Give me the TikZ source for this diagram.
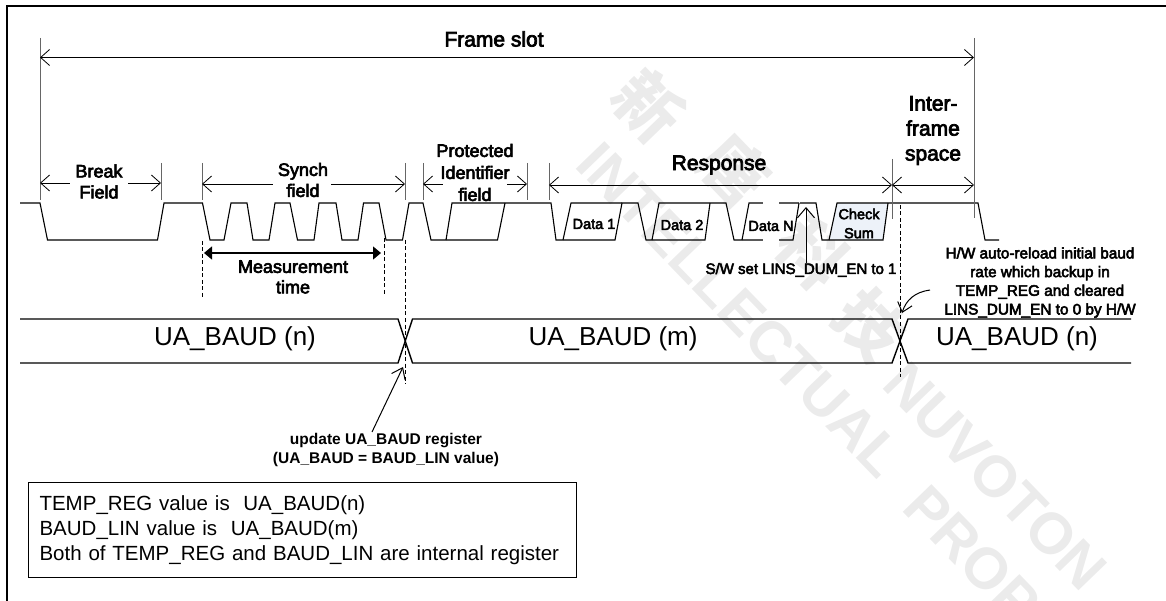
\documentclass[tikz,border=0pt]{standalone}
\usepackage{fontspec}
\setmainfont{Liberation Sans}
\newfontfamily\semi[RawFeature={embolden=3.5}]{Liberation Sans}
\newfontfamily\cjk{Noto Sans CJK TC}
\usetikzlibrary{arrows.meta}
\definecolor{sumfill}{HTML}{EDF2F9}
\newcommand{\fs}[2]{\fontsize{#1pt}{#2pt}\selectfont}
\tikzset{
  barb/.style={{Straight Barb[length=9pt,width=16pt]}-{Straight Barb[length=9pt,width=16pt]}},
  barbL/.style={{Straight Barb[length=9pt,width=16pt]}-},
  barbR/.style={-{Straight Barb[length=9pt,width=16pt]}},
  tick/.style={draw=black!60,line width=1pt},
  dim/.style={line width=0.8pt},
  wave/.style={line width=1.1pt,line join=miter},
  busline/.style={line width=1.4pt},
  guide/.style={line width=0.7pt,dash pattern=on 4pt off 2.5pt},
  lab/.style={font=\semi\fs{18}{21},align=center,inner sep=0pt},
  big/.style={font=\semi\fs{21}{25},align=center,inner sep=0pt},
  small/.style={font=\semi\fs{14.5}{19},align=center,inner sep=0pt},
  note/.style={font=\semi\fs{15.3}{18.7},align=center,inner sep=0pt},
  baud/.style={font=\fs{26}{30},inner sep=0pt},
  wm/.style={text=black!8,inner sep=0pt,rotate=-46},
}
\begin{document}
\begin{tikzpicture}[x=1pt,y=-1pt]
\useasboundingbox (0,0) rectangle (1166,601);
% watermark
\node[wm,font=\cjk\bfseries\fs{66}{70}] (wmA) at (649,105) {新};
\node[wm,font=\cjk\bfseries\fs{66}{70}] (wmB) at (735,170) {唐};
\node[wm,font=\cjk\bfseries\fs{66}{70}] (wmC) at (812,253) {科};
\node[wm,font=\cjk\bfseries\fs{66}{70}] (wmD) at (870,325) {技};
\node[wm,font=\bfseries\fs{58}{64}] (wmE) at (740,310) {INTELLECTUAL};
\node[wm,font=\bfseries\fs{58}{64},anchor=west] (wmF) at (915,495) {PROPERTY};
\node[wm,font=\bfseries\fs{58}{64},anchor=west] (wmG) at (895,372) {NUVOTON};
% outer border
\draw[line width=2pt] (6.5,601) -- (6.5,6) -- (1166,6);
% white patch of the scan
\coordinate (patchA) at (763,199);
\coordinate (patchB) at (779,248);
% check sum fill
\fill[sumfill] (829,240) -- (837,203) -- (888,203) -- (883,240) -- cycle;
% waveform
\draw[wave] (20,203) -- (40,203) -- (47.5,240) -- (157.5,240) -- (164,203) -- (202.5,203)
 -- (210,240) -- (224,240) -- (231,203) -- (247,203) -- (253,240) -- (269,240) -- (275,203)
 -- (290,203) -- (297.5,240) -- (314,240) -- (319,203) -- (336,203) -- (342,240) -- (358,240)
 -- (363.5,203) -- (379,203) -- (386,240) -- (402.5,240) -- (409,203) -- (423,203) -- (431,240)
 -- (497.5,240) -- (505,203);
\draw[wave] (446,240) -- (452,203) -- (551,203) -- (556,240) -- (615,240) -- (622,203)
 -- (638,203) -- (646,240) -- (705,240) -- (710,203);
\draw[wave] (563,240) -- (571,203) -- (622,203);
\draw[wave] (652,240) -- (659,203) -- (726,203) -- (734,240) -- (793,240) -- (799,203);
\draw[wave] (742,240) -- (749,203) -- (799,203);
\draw[wave] (800,203) -- (816,203) -- (822,240) -- (883,240) -- (888,203);
\draw[wave] (829,240) -- (837,203) -- (978,203) -- (985,240) -- (999,240);
\fill[white] (patchA) rectangle (patchB);
% extents
\coordinate (frL) at (40,38); \coordinate (frLb) at (40,200);
\coordinate (frR) at (974,38); \coordinate (frRb) at (974,218);
\coordinate (brR) at (161,163); \coordinate (brRb) at (161,200);
\coordinate (syL) at (202,163); \coordinate (syLb) at (202,200);
\coordinate (syR) at (405,163); \coordinate (syRb) at (405,200);
\coordinate (prL) at (423,163); \coordinate (prLb) at (423,200);
\coordinate (prR) at (527,163); \coordinate (prRb) at (527,200);
\coordinate (reL) at (549,163); \coordinate (reLb) at (549,200);
\coordinate (reR) at (892,159); \coordinate (reRb) at (892,219);
\foreach \a/\b in {frL/frLb,frR/frRb,brR/brRb,syL/syLb,syR/syRb,prL/prLb,prR/prRb,reL/reLb,reR/reRb}
  \draw[tick] (\a) -- (\b);
\coordinate (fa) at (40,57.5); \coordinate (fb) at (974,57.5);
\draw[dim,barb] (fa) -- (fb);
\coordinate (b1) at (40,183); \coordinate (b2) at (70,183); \coordinate (b3) at (128,183); \coordinate (b4) at (161,183);
\draw[dim,barbL] (b1) -- (b2); \draw[dim,barbR] (b3) -- (b4);
\coordinate (s1) at (202,184); \coordinate (s2) at (273,184); \coordinate (s3) at (331,184); \coordinate (s4) at (405,184);
\draw[dim,barbL] (s1) -- (s2); \draw[dim,barbR] (s3) -- (s4);
\coordinate (p1) at (423,184); \coordinate (p2) at (443,184); \coordinate (p3) at (507,184); \coordinate (p4) at (527,184);
\draw[dim,barbL] (p1) -- (p2); \draw[dim,barbR] (p3) -- (p4);
\coordinate (r1) at (549,185); \coordinate (r2) at (892,185); \coordinate (r3) at (974,185);
\draw[dim,barb] (r1) -- (r2); \draw[dim,barb] (r2) -- (r3);
% guides
\coordinate (g1a) at (202,241); \coordinate (g1b) at (202,298);
\coordinate (g2a) at (384,238); \coordinate (g2b) at (384,295);
\coordinate (g3a) at (405,240); \coordinate (g3b) at (405,384);
\coordinate (g4a) at (900,205); \coordinate (g4b) at (900,377);
\foreach \a/\b in {g1a/g1b,g2a/g2b,g3a/g3b,g4a/g4b}
  \draw[guide] (\a) -- (\b);
% measurement arrow
\coordinate (m1) at (204,253); \coordinate (m2) at (381,253);
\draw[line width=1.1pt,{Triangle[length=8pt,width=13pt]}-{Triangle[length=8pt,width=13pt]}] (m1) -- (m2);
% bus
\draw[busline] (20,319) -- (398,319) -- (412.5,363) -- (892,363) -- (908,319) -- (1131,319);
\draw[busline] (20,363) -- (398,363) -- (412.5,319) -- (892,319) -- (908,363) -- (1131,363);
% labels
\node[big] (frame) at (494,39) {Frame slot};
\node[lab] (brk) at (99,181.5) {Break\\Field};
\node[lab] (syn) at (303,180) {Synch\\field};
\node[lab,font=\semi\fs{18}{22}] (pro) at (475,172.5) {Protected\\Identifier\\field};
\node[lab,font=\semi\fs{18}{20.5}] (mea) at (293,277) {Measurement\\time};
\node[big] (res) at (719,165) {Response};
\node[big] (int) at (933,130.5) {Inter-\\frame\\space};
\node[font=\semi\fs{14.5}{19},inner sep=0pt] (d1) at (594,224) {Data 1};
\node[font=\semi\fs{14.5}{19},inner sep=0pt] (d2) at (682,225) {Data 2};
\node[font=\semi\fs{14.5}{19},inner sep=0pt] (dn) at (771,226) {Data N};
\node[small] (cs) at (859,223.5) {Check\\Sum};
\node[font=\semi\fs{15}{19},inner sep=0pt] (sw) at (801,270) {S/W set LINS\_DUM\_EN to 1};
\node[note] (hw) at (1040,282.5) {H/W auto-reload initial baud\\rate which backup in\\TEMP\_REG and cleared\\LINS\_DUM\_EN to 0 by H/W};
\node[baud] (un) at (235,339) {UA\_BAUD (n)};
\node[baud] (um) at (613,339) {UA\_BAUD (m)};
\node[baud] (un2) at (1017,339) {UA\_BAUD (n)};
\node[font=\bfseries\fs{15.5}{19},align=center,inner sep=0pt] (upd) at (386,449.5) {update UA\_BAUD register\\(UA\_BAUD = BAUD\_LIN value)};
\node[draw,line width=1.1pt,anchor=north west,minimum width=548pt,minimum height=95pt,text width=526pt,inner xsep=11pt,inner ysep=0pt,align=left,font=\fs{20.5}{25}] (box) at (28,482)
 {TEMP\_REG value is\ \ UA\_BAUD(n)\\BAUD\_LIN value is\ \ UA\_BAUD(m)\\Both of TEMP\_REG and BAUD\_LIN are internal register};
% pointers
\coordinate (swtip) at (806,207);
\draw[line width=1pt,-{Straight Barb[length=10pt,width=17pt]}] (sw.north -| swtip) -- (swtip);
\coordinate (updtip) at (403,367);
\coordinate (updfrom) at (372,432);
\draw[line width=1pt,-{Straight Barb[length=10pt,width=15pt]}] (updfrom) -- (updtip);
\coordinate (hwfrom) at (930,290); \coordinate (hwtip) at (902,313);
\draw[line width=1pt,-{Straight Barb[length=9pt,width=15pt]}] (hwfrom) .. controls (915,292) and (906,300) .. (hwtip);
\end{tikzpicture}
\end{document}
